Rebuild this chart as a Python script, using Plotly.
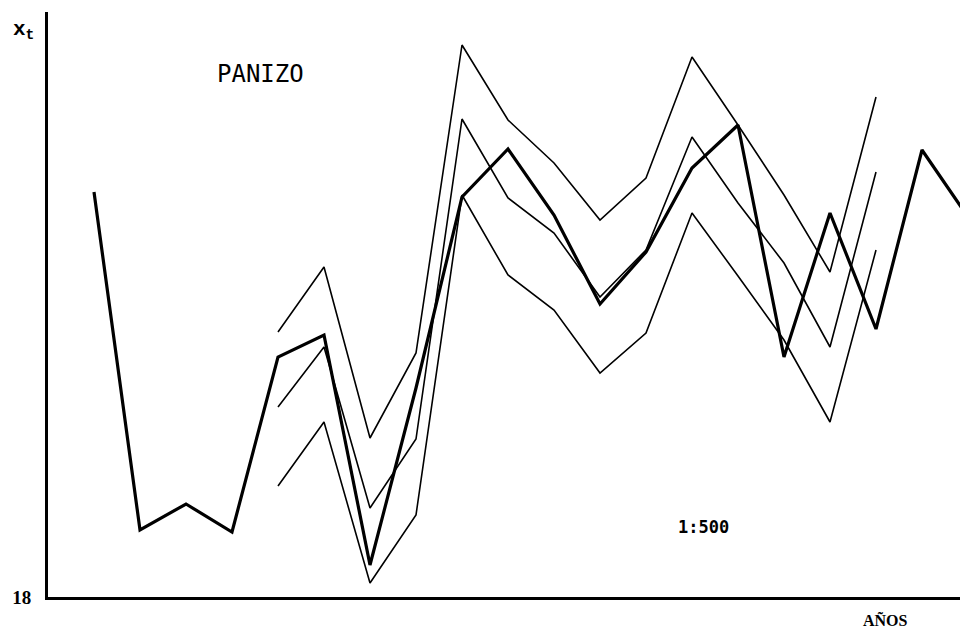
import plotly.graph_objects as go

# Years (index) and observed series (thick line)
years = list(range(20))
observed = [38.25, 21.35, 22.65, 21.25, 30.0, 31.1, 19.6, 28.45, 38.0, 40.4,
            37.1, 32.65, 35.25, 39.45, 41.6, 30.0, 37.2, 31.4, 40.35, 37.0]

# Thin series (from year 4 to year 17)
thin_years = list(range(4, 18))
upper = [31.25, 34.5, 25.95, 30.2, 45.6, 41.85, 39.7, 36.85, 38.95, 45.0,
         41.6, 38.1, 34.25, 43.0]
middle = [27.5, 30.5, 22.45, 25.9, 41.9, 37.95, 36.2, 33.0, 35.35, 41.0,
          37.7, 34.7, 30.5, 39.25]
lower = [23.55, 26.75, 18.7, 22.1, 38.1, 34.1, 32.35, 29.2, 31.2, 37.2,
         34.05, 30.85, 26.75, 35.35]

y_ticks = [18]
y_tick_text = ["18"]

fig = go.Figure()
for s in (upper, middle, lower):
    fig.add_trace(go.Scatter(x=thin_years, y=s, mode="lines",
                             line=dict(color="black", width=1.6),
                             showlegend=False, hoverinfo="skip"))
fig.add_trace(go.Scatter(x=years, y=observed, mode="lines",
                         line=dict(color="black", width=3.2),
                         showlegend=False, hoverinfo="skip"))

# page body adds an 8px offset; compensate
OFF = 8
W, H = 968 - OFF, 635 - OFF
ml, mr, mt, mb = 48 - OFF, 0, 12 - OFF, 38
pw, ph = W - ml - mr, H - mt - mb

def px(x):
    return (x - OFF - ml) / pw

def py(y):
    return 1 - (y - OFF - mt) / ph

fig.update_layout(
    width=W, height=H,
    margin=dict(l=ml, r=mr, t=mt, b=mb),
    plot_bgcolor="white", paper_bgcolor="white",
    xaxis=dict(range=[-1.0, 19.0], showgrid=False, zeroline=False,
               showticklabels=False, ticks="", showline=True,
               linecolor="black", linewidth=3),
    yaxis=dict(range=[18, 47.25], showgrid=False, zeroline=False,
               tickvals=y_ticks, ticktext=y_tick_text, ticks="",
               ticklabelstandoff=10,
               tickfont=dict(family="Liberation Serif", size=19, color="black",
                             weight="bold"),
               showline=True, linecolor="black", linewidth=3),
    annotations=[
        dict(text="x<sub>t</sub>", x=px(23), y=py(30), xref="paper", yref="paper",
             showarrow=False, xanchor="center", yanchor="middle",
             font=dict(family="Liberation Mono", size=21, color="black", weight="bold")),
        dict(text="PANIZO", x=px(260), y=py(74), xref="paper", yref="paper",
             showarrow=False, xanchor="center", yanchor="middle",
             font=dict(family="DejaVu Sans Mono", size=24, color="black")),
        dict(text="1:500", x=px(703), y=py(527), xref="paper", yref="paper",
             showarrow=False, xanchor="center", yanchor="middle",
             font=dict(family="DejaVu Sans Mono", size=17, color="black", weight="bold")),
        dict(text="AÑOS", x=px(885), y=py(620), xref="paper", yref="paper",
             showarrow=False, xanchor="center", yanchor="middle",
             font=dict(family="Liberation Serif", size=16, color="black", weight="bold")),
    ],
)

fig.write_html("out.html")
